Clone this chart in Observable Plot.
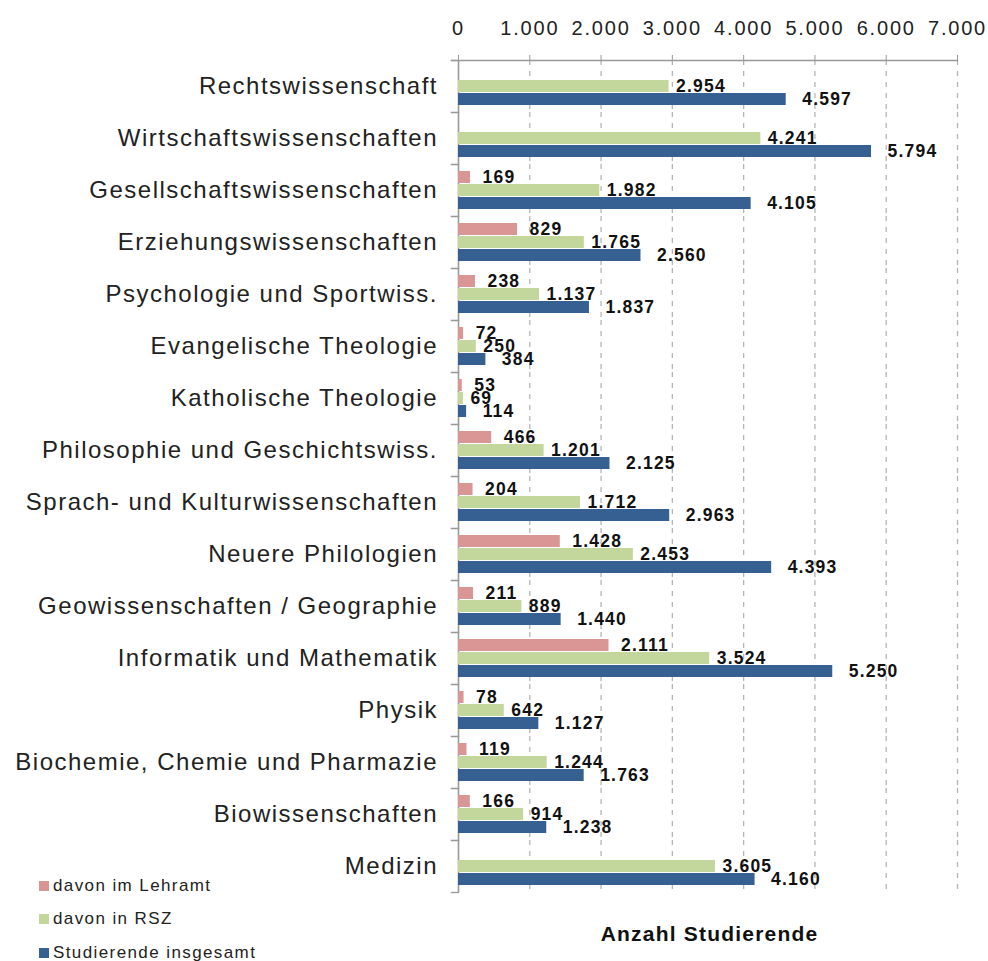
<!DOCTYPE html>
<html>
<head>
<meta charset="utf-8">
<script src="https://cdn.jsdelivr.net/npm/d3@7"></script>
<script src="https://cdn.jsdelivr.net/npm/@observablehq/plot@0.6"></script>
<style>
  html, body { margin: 0; padding: 0; background: #fff; }
  #wrap { position: relative; width: 988px; height: 961px; font-family: "Liberation Sans", Arial, sans-serif; }
  #legend { position: absolute; left: 39px; top: 869px; font-size: 17px; letter-spacing: 1.4px; color: #222; }
  #legend .row { display: flex; align-items: center; height: 33.5px; }
  #legend .sw { width: 10px; height: 10px; margin-right: 4px; }
  #xtitle { position: absolute; left: 460px; width: 499px; top: 922px; text-align: center; font-weight: bold; font-size: 21px; letter-spacing: 1.2px; color: #111; }
  g[aria-label="fy-axis tick label"] text { letter-spacing: 1.5px; }
  g[aria-label="x-axis tick label"] text { letter-spacing: 1.8px; }
  g[aria-label="text"] text { letter-spacing: 1.2px; }
</style>
</head>
<body>
<div id="wrap">
  <div id="chart"></div>
  <div id="legend"></div>
  <div id="xtitle"></div>
</div>
<script>
const categories = [
  "Rechtswissenschaft",
  "Wirtschaftswissenschaften",
  "Gesellschaftswissenschaften",
  "Erziehungswissenschaften",
  "Psychologie und Sportwiss.",
  "Evangelische Theologie",
  "Katholische Theologie",
  "Philosophie und Geschichtswiss.",
  "Sprach- und Kulturwissenschaften",
  "Neuere Philologien",
  "Geowissenschaften / Geographie",
  "Informatik und Mathematik",
  "Physik",
  "Biochemie, Chemie und Pharmazie",
  "Biowissenschaften",
  "Medizin"
];
const lehramt   = [null, null, 169, 829, 238, 72, 53, 466, 204, 1428, 211, 2111, 78, 119, 166, null];
const rsz       = [2954, 4241, 1982, 1765, 1137, 250, 69, 1201, 1712, 2453, 889, 3524, 642, 1244, 914, 3605];
const insgesamt = [4597, 5794, 4105, 2560, 1837, 384, 114, 2125, 2963, 4393, 1440, 5250, 1127, 1763, 1238, 4160];
const seriesNames = ["davon im Lehramt", "davon in RSZ", "Studierende insgesamt"];
const seriesColors = ["#D99694", "#C3D69B", "#376092"];
const xTicks = [0, 1000, 2000, 3000, 4000, 5000, 6000, 7000];
const axisTitle = "Anzahl Studierende";

const seriesValues = [lehramt, rsz, insgesamt];
const data = [];
categories.forEach((c, i) => {
  seriesValues.forEach((vals, s) => {
    if (vals[i] != null) data.push({category: c, series: seriesNames[s], value: vals[i]});
  });
});

const fmt = v => d3.format(",")(v).replace(/,/g, ".");

const labelDx = [12, 7, 16];
const textMarks = seriesNames.map((s, k) => Plot.text(data.filter(d => d.series === s), {
  x: "value", y: "series", fy: "category", text: d => fmt(d.value),
  textAnchor: "start", dx: labelDx[k], fontWeight: "bold", fontSize: 17.5, fill: "#111"
}));

const chart = Plot.plot({
  width: 988,
  height: 961,
  marginLeft: 458,
  marginRight: 31,
  marginTop: 58,
  marginBottom: 67,
  style: {fontFamily: "'Liberation Sans', Arial, sans-serif", background: "#fff", overflow: "visible"},
  x: {domain: [xTicks[0], xTicks[xTicks.length - 1]]},
  fy: {domain: categories, padding: 0, label: null},
  y: {domain: seriesNames, paddingInner: 0.06, paddingOuter: 0.52, axis: null},
  color: {domain: seriesNames, range: seriesColors},
  marks: [
    Plot.ruleX(xTicks.slice(1), {stroke: "#b5b5b5", strokeDasharray: "5,6", strokeWidth: 1.3}),
    Plot.frame({anchor: "top", stroke: "#999", strokeWidth: 1.3, insetLeft: -7, insetRight: 499}),
    Plot.frame({anchor: "bottom", stroke: "#999", strokeWidth: 1.3, insetLeft: -7, insetRight: 499}),
    Plot.frame({anchor: "top", stroke: "#999", strokeWidth: 1.3, facet: "super", insetLeft: -7}),
    Plot.ruleX([0], {stroke: "#999", strokeWidth: 1.6}),
    Plot.axisX({anchor: "top", ticks: xTicks, tickFormat: fmt, tickSize: 6, tickPadding: 20,
      fontSize: 20, label: null, stroke: "#999", color: "#222"}),
    Plot.axisFy({anchor: "left", tickSize: 0, tickPadding: 20.5, fontSize: 24, label: null, color: "#222"}),
    Plot.barX(data, {x: "value", y: "series", fy: "category", fill: "series"}),
    ...textMarks
  ]
});
document.getElementById("chart").appendChild(chart);

const legend = document.getElementById("legend");
seriesNames.forEach((s, k) => {
  const row = document.createElement("div");
  row.className = "row";
  const sw = document.createElement("span");
  sw.className = "sw";
  sw.style.background = seriesColors[k];
  const t = document.createElement("span");
  t.textContent = s;
  row.appendChild(sw); row.appendChild(t);
  legend.appendChild(row);
});
document.getElementById("xtitle").textContent = axisTitle;
</script>
</body>
</html>
